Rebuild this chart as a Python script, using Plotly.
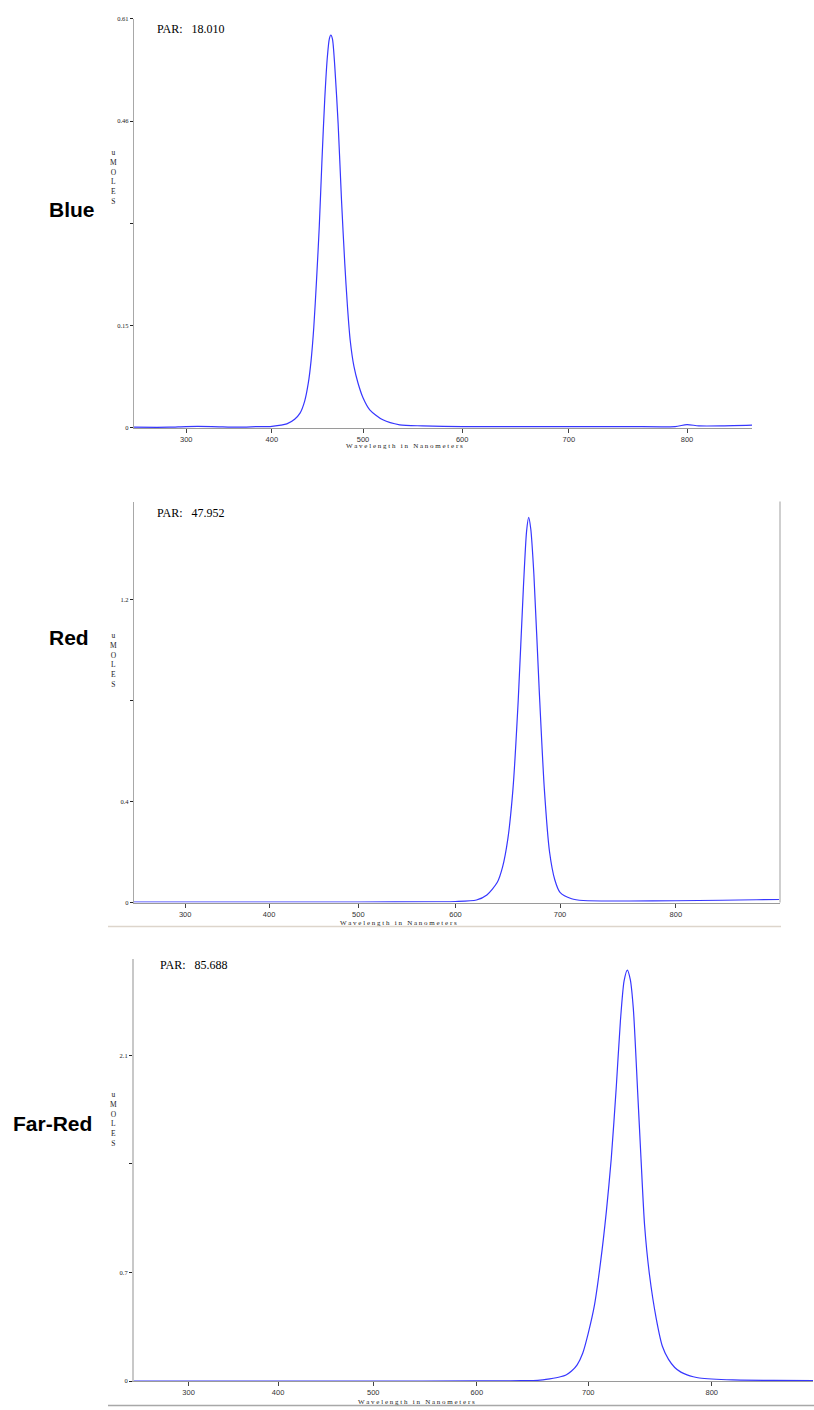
import numpy as np
import plotly.graph_objects as go

# ---------------- data ----------------
TICK_WL = [300, 400, 500, 600, 700, 800]
TICK_TEXT = ["300", "400", "500", "600", "700", "800"]
# relative screen position of the (non-linear) wavelength ticks
TICK_POS = [0.0, 0.171, 0.353, 0.551, 0.764, 1.0]

blue_wl = [239, 280, 300, 330, 360, 385, 398, 410, 416.4, 425, 430.9, 436, 440, 443, 446, 449,
           452, 455, 458, 461, 463, 464.7, 466.5, 469, 472.7, 476.4, 480, 483, 486, 490, 494.5,
           500, 506.8, 520, 537, 560, 600, 650, 700, 750, 790, 800, 810, 830, 855]
blue_val = [0.001, 0.001, 0.002, 0.002, 0.001, 0.002, 0.002, 0.004, 0.006, 0.013, 0.022, 0.040,
            0.067, 0.100, 0.150, 0.220, 0.300, 0.400, 0.490, 0.555, 0.580, 0.586, 0.580, 0.540,
            0.454, 0.340, 0.245, 0.180, 0.130, 0.092, 0.067, 0.045, 0.027, 0.012, 0.0045, 0.003,
            0.002, 0.002, 0.002, 0.002, 0.002, 0.005, 0.003, 0.003, 0.004]

red_wl = [239, 300, 400, 500, 580, 600, 620, 630, 640, 645, 650, 655, 660, 665, 668, 670, 672,
          675, 680, 685, 690, 695, 700, 710, 720, 760, 800, 840, 870, 890]
red_val = [0.002, 0.002, 0.002, 0.002, 0.003, 0.004, 0.010, 0.030, 0.080, 0.140, 0.250, 0.450,
           0.800, 1.250, 1.470, 1.525, 1.480, 1.300, 0.850, 0.450, 0.200, 0.090, 0.040, 0.015,
           0.008, 0.006, 0.007, 0.009, 0.011, 0.012]

fr_wl = [239, 400, 500, 600, 620.8, 640, 654.7, 665.4, 675, 680, 685, 690, 695, 700,
         705, 710, 714.6, 718.6, 722.7, 726, 729, 731.6, 734, 736.5, 740.0, 742.7, 745.6,
         749.6, 755.0, 760, 765, 770, 775, 780, 785, 790, 817, 850, 883]
fr_val = [0.0, 0.0, 0.0, 0.001, 0.002, 0.003, 0.005, 0.015, 0.028, 0.040, 0.065, 0.105, 0.180,
          0.310, 0.490, 0.770, 1.091, 1.434, 1.900, 2.320, 2.580, 2.650, 2.590, 2.400, 1.863,
          1.434, 1.005, 0.684, 0.405, 0.225, 0.140, 0.088, 0.058, 0.040, 0.028, 0.020, 0.008,
          0.005, 0.004]

panels = [
    dict(name="Blue", wl=blue_wl, val=blue_val, par="18.010",
         yticks=[0, 0.1525, 0.305, 0.4575, 0.61], ytext=["0", "0.15", "", "0.46", "0.61"],
         yrange=[0, 0.61], xlim=[239, 855]),
    dict(name="Red", wl=red_wl, val=red_val, par="47.952",
         yticks=[0, 0.4, 0.8, 1.2, 1.6], ytext=["0", "0.4", "", "1.2", "1.6"],
         yrange=[0, 1.588], xlim=[239, 890]),
    dict(name="Far-Red", wl=fr_wl, val=fr_val, par="85.688",
         yticks=[0, 0.7, 1.4, 2.1], ytext=["0", "0.7", "", "2.1"],
         yrange=[0, 2.72], xlim=[239, 882]),
]


def to_axis(wl):
    wl = np.asarray(wl, dtype=float)
    out = np.interp(wl, TICK_WL, TICK_POS)
    lo_slope = (TICK_POS[1] - TICK_POS[0]) / (TICK_WL[1] - TICK_WL[0])
    hi_slope = (TICK_POS[-1] - TICK_POS[-2]) / (TICK_WL[-1] - TICK_WL[-2])
    out = np.where(wl < TICK_WL[0], TICK_POS[0] + (wl - TICK_WL[0]) * lo_slope, out)
    out = np.where(wl > TICK_WL[-1], TICK_POS[-1] + (wl - TICK_WL[-1]) * hi_slope, out)
    return out


# ---------------- layout geometry (pixels) ----------------
W, H = 814, 1410
boxes = [  # left, right, top, bottom
    (134, 752, 15, 426),
    (134, 780, 500, 903),
    (134, 813, 960, 1384),
]
label_pos = [(47, 207), (47, 637), (11, 1125)]
par_pos = [(155, 25), (155, 512), (158, 966)]
moles_top = [148, 633, 1094]
xtitle_pos = [(404, 444), (398, 924), (416, 1405)]


def px(x):
    return x / W


def py(y):
    return 1 - y / H


fig = go.Figure()
annotations = []
shapes = []
LINE = "rgb(55,55,255)"
serif = "Liberation Serif"
xtitle = "W a v e l e n g t h&nbsp;&nbsp; i n&nbsp;&nbsp; N a n o m e t e r s"

for i, (p, (l, r, t, b)) in enumerate(zip(panels, boxes)):
    k = "" if i == 0 else str(i + 1)
    fig.add_trace(go.Scatter(x=to_axis(p["wl"]), y=p["val"], mode="lines",
                             line=dict(color=LINE, width=1.2, shape="spline", smoothing=0.7),
                             xaxis="x" + k, yaxis="y" + k, showlegend=False,
                             hoverinfo="skip"))
    ycol = "#c8c8c8" if i == 2 else "#a8a8a8"
    fig.update_layout(**{
        "xaxis" + k: dict(domain=[px(l), px(r)], range=list(to_axis(p["xlim"])),
                          anchor="y" + k, tickvals=list(to_axis(TICK_WL)), ticktext=TICK_TEXT,
                          ticks="outside", ticklen=4, tickcolor="#444", showgrid=False,
                          zeroline=False, showline=True, linecolor="#9a9a9a", linewidth=1,
                          tickfont=dict(family="Liberation Sans", size=7.5, color="#333"),
                          fixedrange=True),
        "yaxis" + k: dict(domain=[py(b), py(t)], range=p["yrange"], anchor="x" + k,
                          tickvals=p["yticks"], ticktext=p["ytext"], ticks="outside",
                          ticklen=3, tickcolor="#222", showgrid=False, zeroline=False,
                          showline=True, linecolor=ycol, linewidth=2 if i == 2 else 1.2,
                          tickfont=dict(family=serif, size=6.5, color="#222"),
                          fixedrange=True),
    })
    lx, ly = label_pos[i]
    annotations.append(dict(x=px(lx), y=py(ly), xref="paper", yref="paper", xanchor="left",
                            yanchor="middle", showarrow=False, text="<b>%s</b>" % p["name"],
                            font=dict(family="Liberation Sans", size=21, color="black")))
    qx, qy = par_pos[i]
    annotations.append(dict(x=px(qx), y=py(qy), xref="paper", yref="paper", xanchor="left",
                            yanchor="middle", showarrow=False,
                            text="PAR:&nbsp;&nbsp; %s" % p["par"],
                            font=dict(family=serif, size=12, color="black")))
    annotations.append(dict(x=px(113), y=py(moles_top[i] - 5), xref="paper", yref="paper",
                            xanchor="center", yanchor="top", showarrow=False,
                            text="u<br>M<br>O<br>L<br>E<br>S", align="center",
                            font=dict(family=serif, size=7.5, color="#222")))
    tx, ty = xtitle_pos[i]
    annotations.append(dict(x=px(tx), y=py(ty), xref="paper", yref="paper", xanchor="center",
                            yanchor="middle", showarrow=False, text=xtitle,
                            font=dict(family=serif, size=7, color="#222")))

# panel frame decorations
shapes.append(dict(type="line", xref="paper", yref="paper", x0=px(780), x1=px(780),
                   y0=py(500), y1=py(903), line=dict(color="#cfcfcf", width=2)))
shapes.append(dict(type="line", xref="paper", yref="paper", x0=px(108), x1=px(781),
                   y0=py(927), y1=py(927), line=dict(color="#ddd5cc", width=1.5)))
shapes.append(dict(type="line", xref="paper", yref="paper", x0=px(108), x1=px(814),
                   y0=py(1408.5), y1=py(1408.5), line=dict(color="#a8a8a8", width=1.5)))

fig.update_layout(width=W, height=H, margin=dict(l=0, r=0, t=0, b=0),
                  paper_bgcolor="white", plot_bgcolor="white",
                  annotations=annotations, shapes=shapes)

fig.write_html("out.html", config={"displayModeBar": False},
               post_script="document.body.style.margin='0';"
                           "document.body.style.overflow='hidden';")
